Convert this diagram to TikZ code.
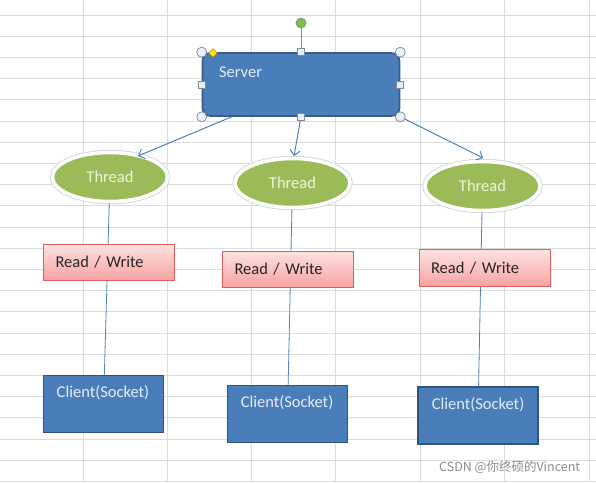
\documentclass[tikz,border=0pt]{standalone}
\usepackage{fontspec}
\setmainfont{Carlito}
\newfontfamily\cjkfont{Noto Sans CJK SC}
\usetikzlibrary{shapes.geometric,arrows.meta}
\definecolor{gridc}{HTML}{DADCDE}
\definecolor{boxblue}{HTML}{4A7EBB}
\definecolor{boxedge}{HTML}{2F5480}
\definecolor{srvedge}{HTML}{385D8A}
\definecolor{olive}{HTML}{9BBB59}
\definecolor{arrc}{HTML}{4F81BD}
\definecolor{pinktop}{HTML}{FDE2E0}
\definecolor{pinkbot}{HTML}{F6A3A1}
\definecolor{pinkedge}{HTML}{D9605E}
\definecolor{lighttxt}{HTML}{E6EEF8}
\definecolor{threadtxt}{HTML}{EEF4D8}
\definecolor{handle}{HTML}{E9EFF6}
\definecolor{handleedge}{HTML}{7F8A96}
\definecolor{rotgreen}{HTML}{7CC242}
\tikzset{
  lbl/.style={font=\fontsize{16.5}{18}\selectfont, inner sep=0pt},
  srvbox/.style={draw=srvedge, line width=1.6pt, fill=boxblue, rounded corners=8pt,
     minimum width=197pt, minimum height=63pt, inner sep=0pt},
  thread/.style={ellipse, fill=olive, draw=white, line width=3.5pt,
     preaction={draw=black!15, line width=5.5pt},
     minimum width=115pt, minimum height=49pt, inner sep=0pt,
     text=threadtxt, font=\fontsize{16.5}{18}\selectfont},
  rwbox/.style={draw=pinkedge, line width=0.9pt, top color=pinktop, bottom color=pinkbot,
     minimum width=131pt, minimum height=36pt, text width=107pt, inner xsep=12pt,
     align=left, text=black!85, font=\fontsize{16.5}{18}\selectfont},
  client/.style={draw=boxedge, line width=1.8pt, fill=boxblue,
     minimum width=120pt, minimum height=57pt, inner sep=0pt},
  link/.style={draw=arrc, line width=0.8pt},
  arr/.style={draw=arrc, line width=1pt, -{Straight Barb[length=5pt,width=10pt]}},
  hcirc/.style={circle, draw=handleedge, fill=handle, line width=0.7pt, minimum size=10pt, inner sep=0pt},
  hsq/.style={rectangle, draw=handleedge, fill=handle, line width=0.7pt, minimum size=7pt, inner sep=0pt},
}
\begin{document}
\begin{tikzpicture}[x=1pt,y=-1pt]
\useasboundingbox (0,0) rectangle (596,482);
\fill[white] (0,0) rectangle (596,482);
% spreadsheet grid
\foreach \k in {0,...,22} {\draw[gridc, line width=1pt] (0,15+21.2*\k) -- (596,15+21.2*\k);}
\foreach \xx in {83,167,251.5,335.5,420,504.5,589} {\draw[gridc, line width=1pt] (\xx,0) -- (\xx,482);}

% server
\node[srvbox] (srv) at (301,84.5) {};
\node[lbl, text=lighttxt] (srvt) at (240.5,72) {Server};

% threads
\node[thread] (t1) at (110,177) {Thread};
\node[thread] (t2) at (292.5,183) {Thread};
\node[thread] (t3) at (482.5,186) {Thread};

% clients
\node[client] (c1) at (103.5,404) {};
\node[client] (c2) at (287.5,414) {};
\node[client] (c3) at (478,415.5) {};
\node[lbl, text=lighttxt] (c1t) at (103,393) {Client(Socket)};
\node[lbl, text=lighttxt] (c2t) at (287,403) {Client(Socket)};
\node[lbl, text=lighttxt] (c3t) at (478,405) {Client(Socket)};

% thread -> client lines (behind read/write boxes)
\draw[link] (t1) -- (c1);
\draw[link] (t2) -- (c2);
\draw[link] (t3) -- (c3);

% read / write boxes
\node[rwbox] (rw1) at (109,262) {Read / Write};
\node[rwbox] (rw2) at (288,269) {Read / Write};
\node[rwbox, minimum height=37pt] (rw3) at (484.5,268) {Read / Write};

% arrows server -> threads
\coordinate (a1) at (138,156);
\coordinate (a2) at (294,156);
\coordinate (a3) at (483,158);
\draw[arr] ([xshift=30pt]srv.south west) -- (a1);
\draw[arr] (srv.south) -- (a2);
\draw[arr] (srv.south east) -- (a3);

% selection handles
\node[circle, fill=rotgreen, draw=handleedge, line width=0.7pt, minimum size=10pt, inner sep=0pt] (rot) at (301,23) {};
\draw[handleedge, line width=0.8pt] (rot) -- (srv.north);
\node[hcirc] (h1) at (srv.north west) {};
\node[hcirc] (h2) at (srv.north east) {};
\node[hcirc] (h3) at (srv.south west) {};
\node[hcirc] (h4) at (srv.south east) {};
\node[hsq] (h5) at (srv.north) {};
\node[hsq] (h6) at (srv.south) {};
\node[hsq] (h7) at (srv.west) {};
\node[hsq] (h8) at (srv.east) {};
\node[diamond, fill=yellow!90!orange, draw=orange!70!black, line width=0.4pt, minimum size=9pt, inner sep=0pt] (adj) at (213,53) {};

% watermark
\node[font=\cjkfont\fontsize{12.5}{14}\selectfont, text=black!45, anchor=west, inner sep=0pt] (wm) at (439,467) {CSDN @你终硕的Vincent};
\end{tikzpicture}
\end{document}
